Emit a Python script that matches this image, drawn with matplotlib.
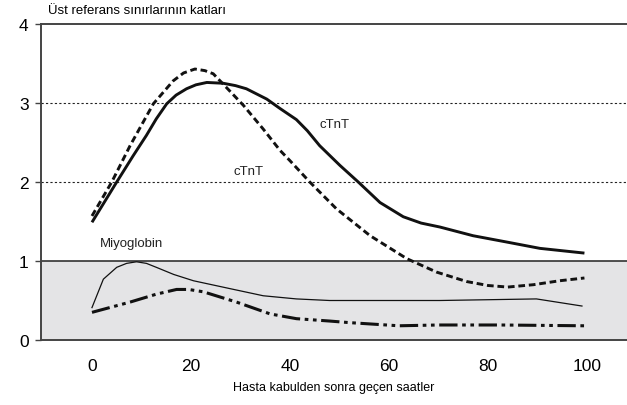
import matplotlib
matplotlib.use("Agg")
import matplotlib.pyplot as plt

plt.rcParams["font.family"] = ["Liberation Sans", "DejaVu Sans"]

# cTnT (solid)
ctnt_solid_x = [0, 5, 8.3, 11, 13, 15.1, 17, 19.1, 21, 23.2, 26.5, 29, 31.2, 35.3, 38,
                41.3, 43.5, 46, 50.1, 53.8, 58.2, 62.9, 66.5, 70.3, 77, 83.8, 90.5, 99.5]
ctnt_solid_y = [1.49, 2.0, 2.33, 2.59, 2.80, 2.99, 3.10, 3.18, 3.23, 3.26, 3.25, 3.22,
                3.18, 3.05, 2.93, 2.79, 2.65, 2.46, 2.21, 2.0, 1.74, 1.56, 1.48, 1.43,
                1.32, 1.24, 1.16, 1.10]

# cTnT (dashed)
ctnt_dash_x = [0, 4, 7.7, 12.4, 16.4, 18.5, 20.8, 22.8, 24.5, 26.5, 30.6, 34.6, 38, 40,
               44, 49.4, 56.2, 63.6, 69.6, 75.7, 80, 84, 89.2, 94.5, 99.5]
ctnt_dash_y = [1.57, 2.0, 2.46, 2.99, 3.28, 3.38, 3.43, 3.41, 3.37, 3.24, 2.97, 2.67,
               2.40, 2.27, 2.0, 1.66, 1.32, 1.03, 0.86, 0.74, 0.69, 0.67, 0.70, 0.75, 0.785]

# Miyoglobin (thin)
myo_x = [0, 2.3, 5, 7, 9, 11, 13, 16.5, 20.5, 27.9, 34.6, 41.3, 48, 62, 70.3, 89.8, 99]
myo_y = [0.41, 0.77, 0.92, 0.97, 0.99, 0.97, 0.92, 0.83, 0.75, 0.65, 0.56, 0.52, 0.50,
         0.50, 0.50, 0.52, 0.43]

# dash-dot-dot curve
dd_x = [0, 7.7, 13, 17.1, 19.5, 22.5, 29.2, 36, 41.3, 48, 52, 62, 70, 82.4, 99.5]
dd_y = [0.35, 0.48, 0.58, 0.64, 0.64, 0.61, 0.48, 0.33, 0.27, 0.24, 0.22, 0.18, 0.19,
        0.19, 0.18]

x_ticks = [0, 20, 40, 60, 80, 100]
y_ticks = [0, 1, 2, 3, 4]

fig = plt.figure(figsize=(6.27, 4.06), dpi=100)
ax = fig.add_axes([41 / 627, 65 / 406, 586 / 627, 316 / 406])

ax.axhspan(0, 1, color="#e4e4e6", zorder=0)
ax.axhline(1, color="#222222", lw=1.1, zorder=1)
for g in (2, 3):
    ax.axhline(g, color="#222222", lw=0.8, linestyle=(0, (2, 2)), zorder=1)

ax.plot(ctnt_solid_x, ctnt_solid_y, color="#111111", lw=2.1, solid_capstyle="butt",
        solid_joinstyle="round", zorder=3)
ax.plot(ctnt_dash_x, ctnt_dash_y, color="#111111", lw=2.1,
        linestyle=(0, (2.3, 1.3)), dash_capstyle="butt", zorder=3)
ax.plot(myo_x, myo_y, color="#111111", lw=0.9, zorder=3)
ax.plot(dd_x, dd_y, color="#111111", lw=2.2,
        linestyle=(0, (6, 1.5, 1.2, 1.5, 1.2, 1.5)), dash_capstyle="butt", zorder=3)

ax.text(46, 2.73, "cTnT", fontsize=9.5, color="#222222", va="center")
ax.text(28.5, 2.14, "cTnT", fontsize=9.5, color="#222222", va="center")
ax.text(1.5, 1.23, "Miyoglobin", fontsize=9.5, color="#222222", va="center")

ax.set_xlim(-10.3, 108.1)
ax.set_ylim(0, 4)
ax.set_xticks(x_ticks)
ax.set_yticks(y_ticks)
ax.tick_params(axis="x", length=0, pad=13, labelsize=12.5)
ax.tick_params(axis="y", length=4, width=1, color="#444444", pad=5, labelsize=12.5)

ax.spines["right"].set_visible(False)
for side in ("left", "bottom", "top"):
    ax.spines[side].set_color("#444444")
    ax.spines[side].set_linewidth(1.4)

ax.set_xlabel("Hasta kabulden sonra geçen saatler", fontsize=9, labelpad=6)
fig.text(48 / 627, 1 - 11 / 406, "Üst referans sınırlarının katları", fontsize=9.5,
         va="center", ha="left")

fig.savefig("out.png", dpi=100)
